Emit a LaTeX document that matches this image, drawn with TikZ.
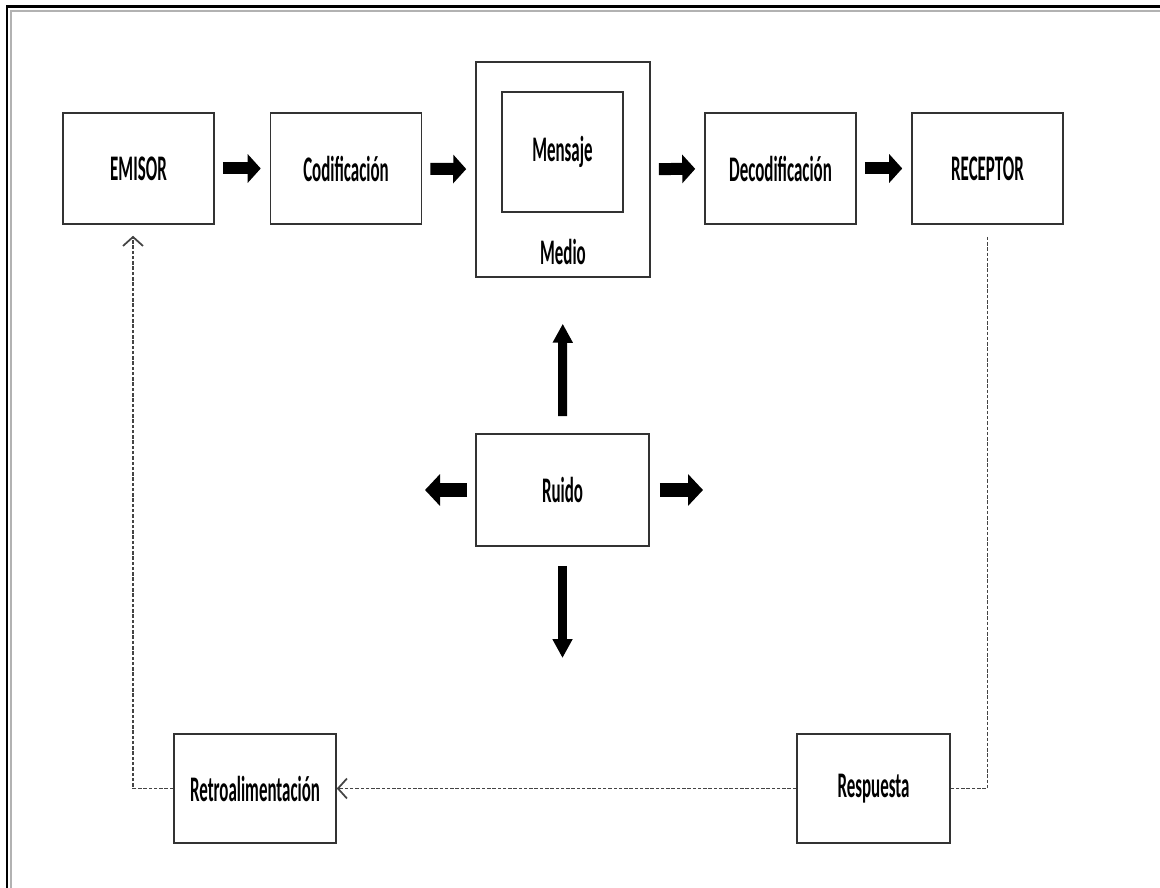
\documentclass[tikz,border=0pt]{standalone}
\usepackage{fontspec}
\setmainfont{Carlito}[FakeStretch=0.47]
\usepackage{xcolor}
\usetikzlibrary{positioning,arrows.meta}
\definecolor{boxline}{HTML}{333333}
\definecolor{fbline}{HTML}{444444}
\tikzset{
  blk/.style  ={rectangle, draw=boxline, line width=0.9pt, fill=white,
                inner sep=0pt, font=\fontsize{20.5}{24}\selectfont\bfseries},
  stage/.style={blk, minimum width=3.02cm, minimum height=2.22cm},
  % thick block arrows of the main chain
  fat/.style  ={line width=0.24cm, -{Triangle[length=0.26cm,width=0.56cm]},
                shorten <=0.16cm, shorten >=0.18cm},
  slim/.style ={line width=0.18cm, -{Triangle[length=0.38cm,width=0.38cm]}},
  side/.style ={line width=0.30cm, -{Triangle[length=0.30cm,width=0.62cm]}},
  % dashed feedback loop
  fb/.style   ={draw=fbline, line width=1pt, dash pattern=on 2pt off 1pt},
  barb/.style ={-{Straight Barb[length=0.18cm,width=0.40cm]}},
}
\def\chainlist{emi/138.5/EMISOR, cod/346/Codificación,
               dec/780.5/Decodificación, rec/987.5/RECEPTOR}

\begin{document}
\begin{tikzpicture}[x=0.02cm,y=-0.02cm]
\useasboundingbox (0,0) rectangle (1160,888);
% --- frame ---
\draw[line width=0.06cm] (1160,7) -- (7,7) -- (7,888);
\draw[gray!60,line width=0.04cm] (1160,11) -- (11,11) -- (11,888);
% --- the chain ---
\foreach \n/\x/\t in \chainlist
  {\node[stage] (\n) at (\x,168.5) {\t};}
\node[blk,minimum width=3.48cm,minimum height=4.30cm] (medio) at (563,169.5) {};
\node[blk,minimum width=2.42cm,minimum height=2.40cm] (msj) at (562.5,152) {Mensaje};
\node[font=\fontsize{20.5}{24}\selectfont\bfseries] (medtxt) at (563,252) {Medio};
\draw[fat] (emi) -- (cod);
\draw[fat] (cod) -- (medio);
\draw[fat] (medio) -- (dec);
\draw[fat] (dec) -- (rec);
% --- noise ---
\node[blk,minimum width=3.46cm,minimum height=2.24cm] (ruido) at (562.5,490) {Ruido};
\coordinate (nd) at (562.5,658);
\coordinate (nl) at (425,490);
\coordinate (nr) at (703,490);
\draw[slim,shorten <=0.34cm,shorten >=0.92cm] (ruido) -- (medio);
\draw[slim,shorten <=0.38cm] (ruido) -- (nd);
\draw[side,shorten <=0.16cm] (ruido) -- (nl);
\draw[side,shorten <=0.20cm] (ruido) -- (nr);
% --- feedback ---
\node[blk,minimum width=3.06cm,minimum height=2.18cm] (resp) at (873.5,788.5) {Respuesta};
\node[blk,minimum width=3.24cm,minimum height=2.18cm] (retro) at (255,788.5) {Retroalimentación};
\draw[fb,shorten <=0.24cm] (rec) |- (resp);
\draw[fb,barb] (resp) -- (retro);
\draw[fb,barb,shorten >=0.22cm] (retro) -| ([xshift=-0.11cm]emi.south);
\end{tikzpicture}
\end{document}
